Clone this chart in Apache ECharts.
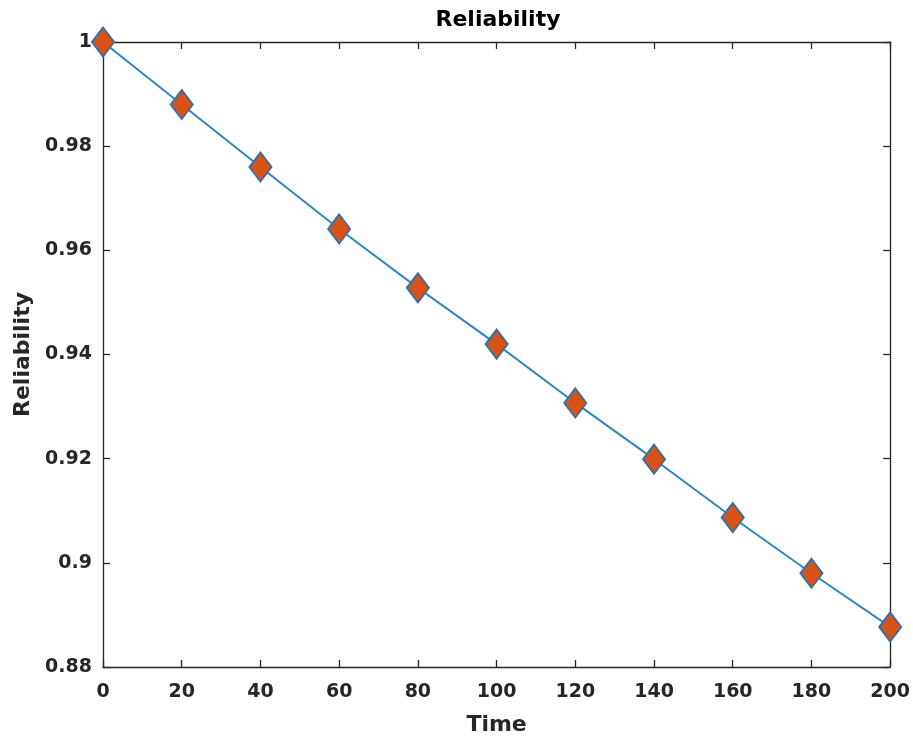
<!DOCTYPE html>
<html>
<head>
<meta charset="utf-8">
<script src="https://cdn.jsdelivr.net/npm/echarts@6/dist/echarts.min.js"></script>
<style>html,body{margin:0;padding:0;background:#fff}#c{width:913px;height:745px}</style>
</head>
<body>
<div id="c"></div>
<script>
const timeValues = [0, 20, 40, 60, 80, 100, 120, 140, 160, 180, 200];
const reliabilityValues = [1.0, 0.988, 0.976, 0.9641, 0.9528, 0.942, 0.9307, 0.9199, 0.9087, 0.898, 0.8877];
const titleText = 'Reliability';
const xName = 'Time';
const yName = 'Reliability';

const chart = echarts.init(document.getElementById('c'));
const font = 'DejaVu Sans, Liberation Sans, Arial, sans-serif';
const dark = '#262626';
const fmtY = v => String(parseFloat(v.toFixed(2)));
const baseAxisLine = {show: true, onZero: false, lineStyle: {color: dark, width: 1.3}};
const tick = {show: true, inside: true, length: 7, lineStyle: {color: dark, width: 1.3}};

chart.setOption({
  backgroundColor: '#fff',
  animation: false,
  title: {
    text: titleText, left: 493, top: 4, textAlign: 'center',
    textStyle: {fontFamily: font, fontSize: 22, fontWeight: 'bold', color: '#000'}
  },
  grid: {left: 103, right: 20, top: 42, bottom: 78, containLabel: false},
  xAxis: [{
    type: 'value', min: 0, max: 200, interval: 20,
    name: xName, nameLocation: 'middle', nameGap: 47,
    nameTextStyle: {fontFamily: font, fontSize: 22, fontWeight: 'bold', color: dark},
    axisLine: baseAxisLine, axisTick: tick, splitLine: {show: false},
    axisLabel: {fontFamily: font, fontSize: 19, fontWeight: 'bold', color: dark, margin: 16}
  }, {
    type: 'value', min: 0, max: 200, interval: 20, position: 'top',
    axisLine: baseAxisLine, axisTick: tick, splitLine: {show: false}, axisLabel: {show: false}
  }],
  yAxis: [{
    type: 'value', min: 0.88, max: 1.0, interval: 0.02,
    name: yName, nameLocation: 'middle', nameGap: 68, nameRotate: 90,
    nameTextStyle: {fontFamily: font, fontSize: 22, fontWeight: 'bold', color: dark},
    axisLine: baseAxisLine, axisTick: tick, splitLine: {show: false},
    axisLabel: {fontFamily: font, fontSize: 19, fontWeight: 'bold', color: dark, margin: 11, formatter: fmtY}
  }, {
    type: 'value', min: 0.88, max: 1.0, interval: 0.02, position: 'right',
    axisLine: baseAxisLine, axisTick: tick, splitLine: {show: false}, axisLabel: {show: false}
  }],
  series: [{
    type: 'line',
    data: timeValues.map((t, i) => [t, reliabilityValues[i]]),
    clip: false,
    symbol: 'diamond', symbolSize: [22, 29],
    lineStyle: {color: '#2f86c0', width: 2},
    itemStyle: {color: '#D95319', borderColor: '#3a6f9c', borderWidth: 2},
    z: 5
  }]
});
</script>
</body>
</html>
